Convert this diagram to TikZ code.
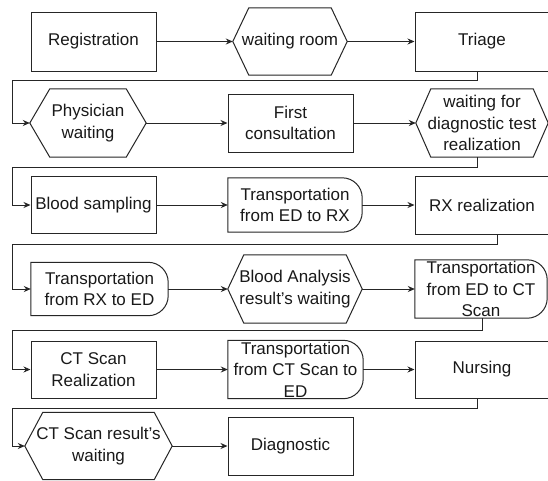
\documentclass[tikz,border=0pt]{standalone}
\usepackage{fontspec}
\setmainfont{Liberation Sans}
\usetikzlibrary{calc,arrows.meta}
\newcommand\myhex[2]{\draw[outl] ($(#1.north west)+(#2,0)$) -- ($(#1.north east)+(-#2,0)$) -- (#1.east) -- ($(#1.south east)+(-#2,0)$) -- ($(#1.south west)+(#2,0)$) -- (#1.west) -- cycle;}
\newcommand\mydelay[1]{\draw[outl] (#1.north west) -- ($(#1.north east)+(-20pt,0)$) arc[start angle=90,end angle=0,radius=20pt] -- ($(#1.south east)+(0,20pt)$) arc[start angle=0,end angle=-90,radius=20pt] -- (#1.south west) -- cycle;}
\begin{document}
\begin{tikzpicture}[x=1pt,y=1pt,
  outl/.style={draw=black!85,line width=1pt},
  base/.style={inner sep=0pt,align=center,font=\fontsize{17}{21.5}\selectfont,text=black!90},
  boxn/.style={base,draw=black!85,line width=1pt,minimum width=#1},
  shp/.style={base,minimum width=#1},
  arr/.style={draw=black!85,line width=1pt,-{Stealth[length=7pt,width=6pt]}}]
\clip (0,0) rectangle (548,-480);
\fill[white] (0,0) rectangle (548,-480);
\coordinate (lx) at (12,0);
% row 1
\node[boxn=125pt,minimum height=59pt] (reg) at (93.5,-41.5) {Registration};
\node[shp=114pt,minimum height=67pt] (wr) at (290,-41.5) {waiting room};
\node[boxn=134pt,minimum height=59pt] (tri) at (482,-41.5) {Triage};
% row 2
\node[shp=116pt,minimum height=68pt] (ph) at (88,-123) {Physician\\waiting};
\node[boxn=125pt,minimum height=58pt] (fc) at (290.5,-123) {First\\consultation};
\node[shp=132pt,minimum height=68pt] (wdt) at (482,-123) {waiting for\\diagnostic test\\realization};
% row 3
\node[boxn=125pt,minimum height=57pt] (bs) at (93.5,-205) {Blood sampling};
\node[shp=134pt,minimum height=54pt] (ted) at (295,-205) {Transportation\\from ED to RX};
\node[boxn=134pt,minimum height=58pt] (rx) at (482,-205) {RX realization};
% row 4
\node[shp=137pt,minimum height=53pt] (trx) at (99.5,-289) {Transportation\\from RX to ED};
\node[shp=134pt,minimum height=68pt] (ba) at (295,-289) {Blood Analysis\\result's waiting};
\node[shp=132pt,minimum height=58pt] (tct) at (481,-289) {Transportation\\from ED to CT\\Scan};
% row 5
\node[boxn=125pt,minimum height=57pt] (cts) at (93.5,-369.5) {CT Scan\\Realization};
\node[shp=135pt,minimum height=58pt] (tcs) at (295.5,-369.5) {Transportation\\from CT Scan to\\ED};
\node[boxn=134pt,minimum height=57pt] (nur) at (482,-369.5) {Nursing};
% row 6
\node[shp=147pt,minimum height=67pt] (ctr) at (98.5,-446) {CT Scan result's\\waiting};
\node[boxn=125pt,minimum height=58pt] (dia) at (290.5,-446) {Diagnostic};
% outlines
\myhex{wr}{16}
\myhex{ph}{20}
\myhex{wdt}{15}
\myhex{ba}{16}
\myhex{ctr}{18}
\mydelay{ted}
\mydelay{trx}
\mydelay{tct}
\mydelay{tcs}
% connectors
\draw[arr] (reg.east) -- (wr.west);
\draw[arr] (wr.east) -- (tri.west);
\draw[arr] ([xshift=-5pt]tri.south) -- ++(0,-9) -| (lx |- ph.west) -- (ph.west);
\draw[arr] (ph.east) -- (fc.west);
\draw[arr] (fc.east) -- (wdt.west);
\draw[arr] ([xshift=-5pt]wdt.south) -- ++(0,-10) -| (lx |- bs.west) -- (bs.west);
\draw[arr] (bs.east) -- (ted.west);
\draw[arr] (ted.east) -- (rx.west);
\draw[arr] ([xshift=15pt]rx.south) -- ++(0,-10) -| (lx |- trx.west) -- (trx.west);
\draw[arr] (trx.east) -- (ba.west);
\draw[arr] (ba.east) -- (tct.west);
\draw[arr] ([xshift=1pt]tct.south) -- ++(0,-12) -| (lx |- cts.west) -- (cts.west);
\draw[arr] (cts.east) -- (tcs.west);
\draw[arr] (tcs.east) -- (nur.west);
\draw[arr] ([xshift=-5pt]nur.south) -- ++(0,-10) -| (lx |- ctr.west) -- (ctr.west);
\draw[arr] (ctr.east) -- (dia.west);
\end{tikzpicture}
\end{document}
